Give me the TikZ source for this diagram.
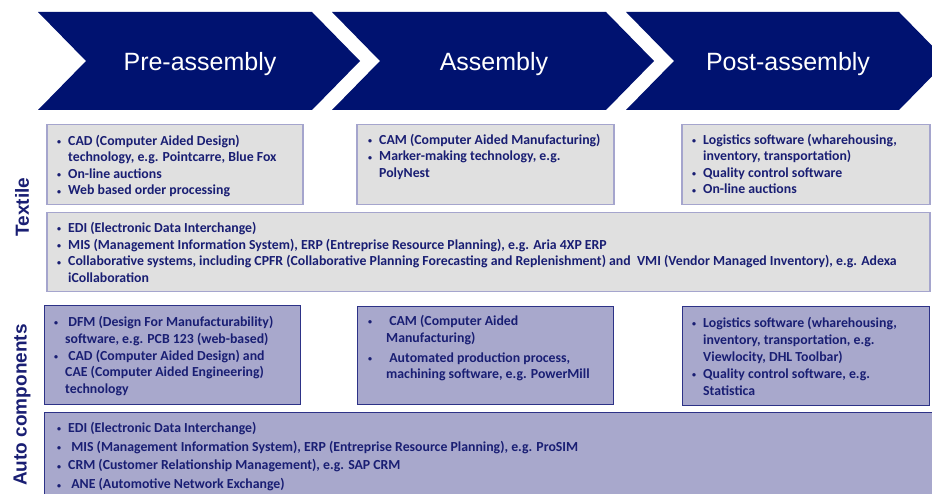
\documentclass[tikz,border=0pt]{standalone}
\usepackage{fontspec}
\setmainfont{Carlito}
\newfontfamily\arialf{Liberation Sans}
\definecolor{navy}{RGB}{0,18,112}
\definecolor{txtc}{RGB}{25,30,115}
\definecolor{tfill}{RGB}{224,224,224}
\definecolor{tline}{RGB}{165,165,205}
\definecolor{afill}{RGB}{168,168,204}
\definecolor{aline}{RGB}{45,50,135}
\newcommand\bu{\raisebox{0.6pt}{\fontsize{8}{8}\selectfont •}}
\newcommand\bitem[1][11pt]{\makebox[#1][l]{\bu}}
\newcommand\bind[1][11pt]{\hspace*{#1}}
\newcommand\btext[2][16.5]{\parbox[t]{880pt}{\fontsize{13.8}{#1}\selectfont\bfseries #2}}
\tikzset{
  chev/.style={fill=navy},
  chevlab/.style={text=white, font=\arialf\fontsize{25}{30}\selectfont, inner sep=0pt, anchor=base},
  tbox/.style={draw=tline, fill=tfill, line width=1.5pt, anchor=north west, inner sep=0pt},
  abox/.style={draw=aline, fill=afill, line width=1.2pt, anchor=north west, inner sep=0pt},
  txt/.style={anchor=base west, inner sep=0pt, text=txtc},
  side/.style={text=txtc, font=\arialf\bfseries\fontsize{19}{22}\selectfont, rotate=90, inner sep=0pt}
}
\begin{document}
\begin{tikzpicture}[x=1pt,y=-1pt]
\useasboundingbox (0,0) rectangle (932,494);
\clip (0,0) rectangle (932,494);
% chevrons
\fill[chev] (38,12) -- (312,12) -- (360,61) -- (312,110) -- (38,110) -- (86,61) -- cycle;
\fill[chev] (332,12) -- (606,12) -- (654,61) -- (606,110) -- (332,110) -- (380,61) -- cycle;
\fill[chev] (626,12) -- (899,12) -- (947,61) -- (899,110) -- (626,110) -- (674,61) -- cycle;
\node[chevlab] (pre) at (200,71) {Pre-assembly};
\node[chevlab] (asm) at (494,71) {Assembly};
\node[chevlab] (post) at (788,71) {Post-assembly};
% side labels
\node[side] (textile) at (22,207) {Textile};
\node[side] (auto) at (22,405) {Auto components};
% textile boxes
\node[tbox, minimum width=256pt, minimum height=80pt] (a1) at (46,124) {};
\node[tbox, minimum width=257pt, minimum height=80pt] (a2) at (356,124) {};
\node[tbox, minimum width=248pt, minimum height=80pt] (a3) at (681,124) {};
\node[tbox, minimum width=883pt, minimum height=79pt] (aw) at (46,212) {};
% auto boxes
\node[abox, minimum width=256pt, minimum height=99pt] (b1) at (44,305) {};
\node[abox, minimum width=256pt, minimum height=98pt] (b2) at (357,306) {};
\node[abox, minimum width=247pt, minimum height=99pt] (b3) at (682,306) {};
\node[abox, minimum width=900pt, minimum height=95pt] (bw) at (44,412) {};
% texts
\node[txt] (a1t) at (57,145.5) {\btext{\bitem CAD (Computer Aided Design)\\
\bind technology, e.g. Pointcarre, Blue Fox\\
\bitem On-line auctions\\
\bitem Web based order processing}};
\node[txt] (a2t) at (368,144.5) {\btext{\bitem CAM (Computer Aided Manufacturing)\\
\bitem Marker-making technology, e.g.\\
\bind PolyNest}};
\node[txt] (a3t) at (692,144.5) {\btext{\bitem Logistics software (wharehousing,\\
\bind inventory, transportation)\\
\bitem Quality control software\\
\bitem On-line auctions}};
\node[txt] (awt) at (57,232.5) {\btext[16.7]{\bitem EDI (Electronic Data Interchange)\\
\bitem MIS (Management Information System), ERP (Entreprise Resource Planning), e.g. Aria 4XP ERP\\
\bitem Collaborative systems, including CPFR (Collaborative Planning Forecasting and Replenishment) and\ \ VMI (Vendor Managed Inventory), e.g. Adexa\\
\bind iCollaboration}};
\node[txt] (b1t) at (54,326.5) {\btext[16.8]{\bitem\ DFM (Design For Manufacturability)\\
\bind software, e.g. PCB 123 (web-based)\\
\bitem\ CAD (Computer Aided Design) and\\
\bind CAE (Computer Aided Engineering)\\
\bind technology}};
\node[txt] (b2t) at (368,325.5) {\btext[16.8]{\bitem[18pt]\ CAM (Computer Aided\\
\bind[18pt]Manufacturing)\\[3pt]
\bitem[18pt]\ Automated production process,\\
\bind[18pt]machining software, e.g. PowerMill}};
\node[txt] (b3t) at (692,327.5) {\btext[17]{\bitem Logistics software (wharehousing,\\
\bind inventory, transportation, e.g.\\
\bind Viewlocity, DHL Toolbar)\\
\bitem Quality control software, e.g.\\
\bind Statistica}};
\node[txt] (bwt) at (57,432.5) {\btext[18.7]{\bitem EDI (Electronic Data Interchange)\\
\bitem\ MIS (Management Information System), ERP (Entreprise Resource Planning), e.g. ProSIM\\
\bitem CRM (Customer Relationship Management), e.g. SAP CRM\\
\bitem\ ANE (Automotive Network Exchange)}};
\end{tikzpicture}
\end{document}
